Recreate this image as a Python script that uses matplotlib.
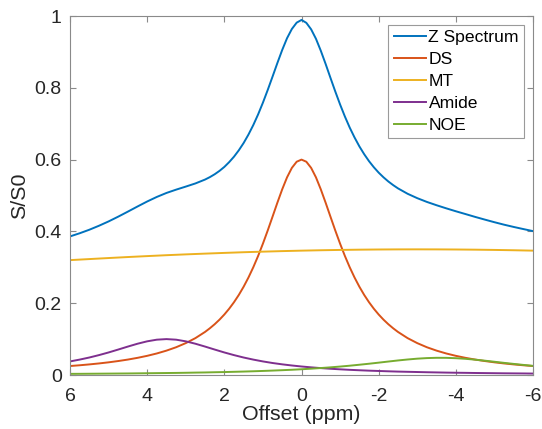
import matplotlib
matplotlib.use("Agg")
import matplotlib.pyplot as plt
from matplotlib.ticker import FuncFormatter

plt.rcParams['font.family'] = ['Liberation Sans', 'DejaVu Sans']
plt.rcParams['axes.unicode_minus'] = False

# offsets (ppm) for the sharp curves (Z spectrum, DS)
offset_fine = [6, 5.75, 5.5, 5.25, 5, 4.75, 4.5, 4.25, 4, 3.75, 3.5, 3.25, 3, 2.75,
               2.5, 2.375, 2.25, 2.125, 2, 1.875, 1.75, 1.625, 1.5, 1.375, 1.25,
               1.125, 1, 0.875, 0.75, 0.625, 0.5, 0.375, 0.25, 0.125, 0,
               -0.125, -0.25, -0.375, -0.5, -0.625, -0.75, -0.875, -1, -1.125,
               -1.25, -1.375, -1.5, -1.625, -1.75, -1.875, -2, -2.125, -2.25,
               -2.375, -2.5, -2.75, -3, -3.25, -3.5, -3.75, -4, -4.25, -4.5,
               -4.75, -5, -5.25, -5.5, -5.75, -6]
z_spectrum = [0.386, 0.3948, 0.4046, 0.4157, 0.4278, 0.4411, 0.4551, 0.4694,
              0.4833, 0.496, 0.5071, 0.5163, 0.5248, 0.5336,
              0.5444, 0.5512, 0.5592, 0.5686, 0.5796, 0.5929, 0.6081, 0.6259,
              0.6462, 0.6697, 0.6961, 0.7258, 0.7586, 0.7941, 0.8313, 0.8691,
              0.9054, 0.9381, 0.9638, 0.9815, 0.989,
              0.981, 0.9628, 0.9365, 0.9033, 0.8665, 0.8279, 0.7899, 0.7536,
              0.7199, 0.6891, 0.6616, 0.6368, 0.615, 0.5956, 0.5787, 0.5637,
              0.5507, 0.5391, 0.529, 0.5199,
              0.5048, 0.4926, 0.4821, 0.4729, 0.4643, 0.4561, 0.4483, 0.4404,
              0.4329, 0.4256, 0.4187, 0.4124, 0.4065, 0.4008]
ds = [0.025, 0.0271, 0.0295, 0.0322, 0.0353, 0.0389, 0.043, 0.0478, 0.0534,
      0.06, 0.0679, 0.0773, 0.0888, 0.1027,
      0.12, 0.1302, 0.1415, 0.1542, 0.1685, 0.1846, 0.2027, 0.223, 0.2459,
      0.2715, 0.30, 0.3315, 0.3659, 0.4027, 0.4412, 0.48, 0.5172, 0.5505,
      0.5769, 0.5941, 0.60,
      0.5941, 0.5769, 0.5505, 0.5172, 0.48, 0.4412, 0.4027, 0.3659, 0.3315,
      0.30, 0.2715, 0.2459, 0.223, 0.2027, 0.1846, 0.1685, 0.1542, 0.1415,
      0.1302, 0.12,
      0.1027, 0.0888, 0.0773, 0.0679, 0.06, 0.0534, 0.0478, 0.043, 0.0389,
      0.0353, 0.0322, 0.0295, 0.0271, 0.025]

# offsets (ppm) for amide and NOE
offset_quarter = [6, 5.75, 5.5, 5.25, 5, 4.75, 4.5, 4.25, 4, 3.75, 3.5, 3.25, 3,
                  2.75, 2.5, 2.25, 2, 1.75, 1.5, 1.25, 1, 0.75, 0.5, 0.25, 0,
                  -0.25, -0.5, -0.75, -1, -1.25, -1.5, -1.75, -2, -2.25, -2.5,
                  -2.75, -3, -3.25, -3.5, -3.75, -4, -4.25, -4.5, -4.75, -5,
                  -5.25, -5.5, -5.75, -6]
amide = [0.0378, 0.0429, 0.0487, 0.0554, 0.0628, 0.0709, 0.0792, 0.0871,
         0.0938, 0.0984, 0.10, 0.0984, 0.0938, 0.0871, 0.0792, 0.0709, 0.0628,
         0.0554, 0.0487, 0.0429, 0.0378, 0.0334, 0.0297, 0.0265, 0.0237,
         0.0213, 0.0192, 0.0174, 0.0158, 0.0144, 0.0132, 0.0121, 0.0112,
         0.0103, 0.0095, 0.0089, 0.0083, 0.0077, 0.0072, 0.0067, 0.0063,
         0.006, 0.0056, 0.0053, 0.005, 0.0047, 0.0045, 0.0043, 0.004]
noe = [0.0032, 0.0033, 0.0035, 0.0037, 0.0039, 0.0041, 0.0043, 0.0046, 0.0049,
       0.0052, 0.0055, 0.0058, 0.0062, 0.0067, 0.0071, 0.0077, 0.0082, 0.0089,
       0.0096, 0.0104, 0.0113, 0.0123, 0.0134, 0.0146, 0.016, 0.0176, 0.0194,
       0.0213, 0.0235, 0.0259, 0.0286, 0.0314, 0.0344, 0.0375, 0.0405, 0.0432,
       0.0455, 0.0471, 0.0479, 0.0478, 0.0468, 0.0451, 0.0427, 0.0399, 0.0369,
       0.0338, 0.0309, 0.0281, 0.0254]

# offsets (ppm) for the broad MT curve
offset_coarse = [6, 5.5, 5, 4.5, 4, 3.5, 3, 2.5, 2, 1.5, 1, 0.5, 0, -0.5, -1,
                 -1.5, -2, -2.5, -3, -3.5, -4, -4.5, -5, -5.5, -6]
mt = [0.320, 0.3229, 0.3258, 0.3286, 0.3312, 0.3337, 0.336, 0.3381, 0.3401,
      0.342, 0.3436, 0.3451, 0.3464, 0.3475, 0.3484, 0.3491, 0.3496, 0.3499,
      0.350, 0.3499, 0.3496, 0.3491, 0.3484, 0.3475, 0.3464]

colors = ['#0072BD', '#D95319', '#EDB120', '#7E2F8E', '#77AC30']

fig = plt.figure(figsize=(5.42, 4.29), dpi=100)
ax = fig.add_axes([70 / 542, 54 / 429, 463 / 542, 359 / 429])

lw = 1.4
ax.plot(offset_fine, z_spectrum, color=colors[0], lw=lw, label='Z Spectrum')
ax.plot(offset_fine, ds, color=colors[1], lw=lw, label='DS')
ax.plot(offset_coarse, mt, color=colors[2], lw=lw, label='MT')
ax.plot(offset_quarter, amide, color=colors[3], lw=lw, label='Amide')
ax.plot(offset_quarter, noe, color=colors[4], lw=lw, label='NOE')

ax.set_xlim(6, -6)
ax.set_ylim(0, 1)
ax.set_xticks([6, 4, 2, 0, -2, -4, -6])
ax.set_yticks([0, 0.2, 0.4, 0.6, 0.8, 1])
ax.yaxis.set_major_formatter(FuncFormatter(lambda v, p: '%g' % v))
ax.xaxis.set_major_formatter(FuncFormatter(lambda v, p: '%g' % v))

for s in ax.spines.values():
    s.set_color('#8a8a8a')
    s.set_linewidth(0.8)
ax.tick_params(direction='in', length=4, width=0.8, color='#8a8a8a',
               top=True, right=True, labelsize=14, labelcolor='#262626')
ax.tick_params(axis='y', pad=6)
ax.tick_params(axis='x', pad=9.5)

ax.set_xlabel('Offset (ppm)', fontsize=15.4, color='#262626', labelpad=0)
ax.set_ylabel('S/S0', fontsize=15.4, color='#262626', labelpad=4)

leg = ax.legend(loc='upper right', fontsize=12.6, fancybox=False, framealpha=1,
                edgecolor='#9a9a9a', handlelength=1.85, handletextpad=0.15,
                labelspacing=0.38, borderpad=0.3, borderaxespad=0.5)
leg.get_frame().set_linewidth(0.8)

fig.savefig('out.png', dpi=100)
